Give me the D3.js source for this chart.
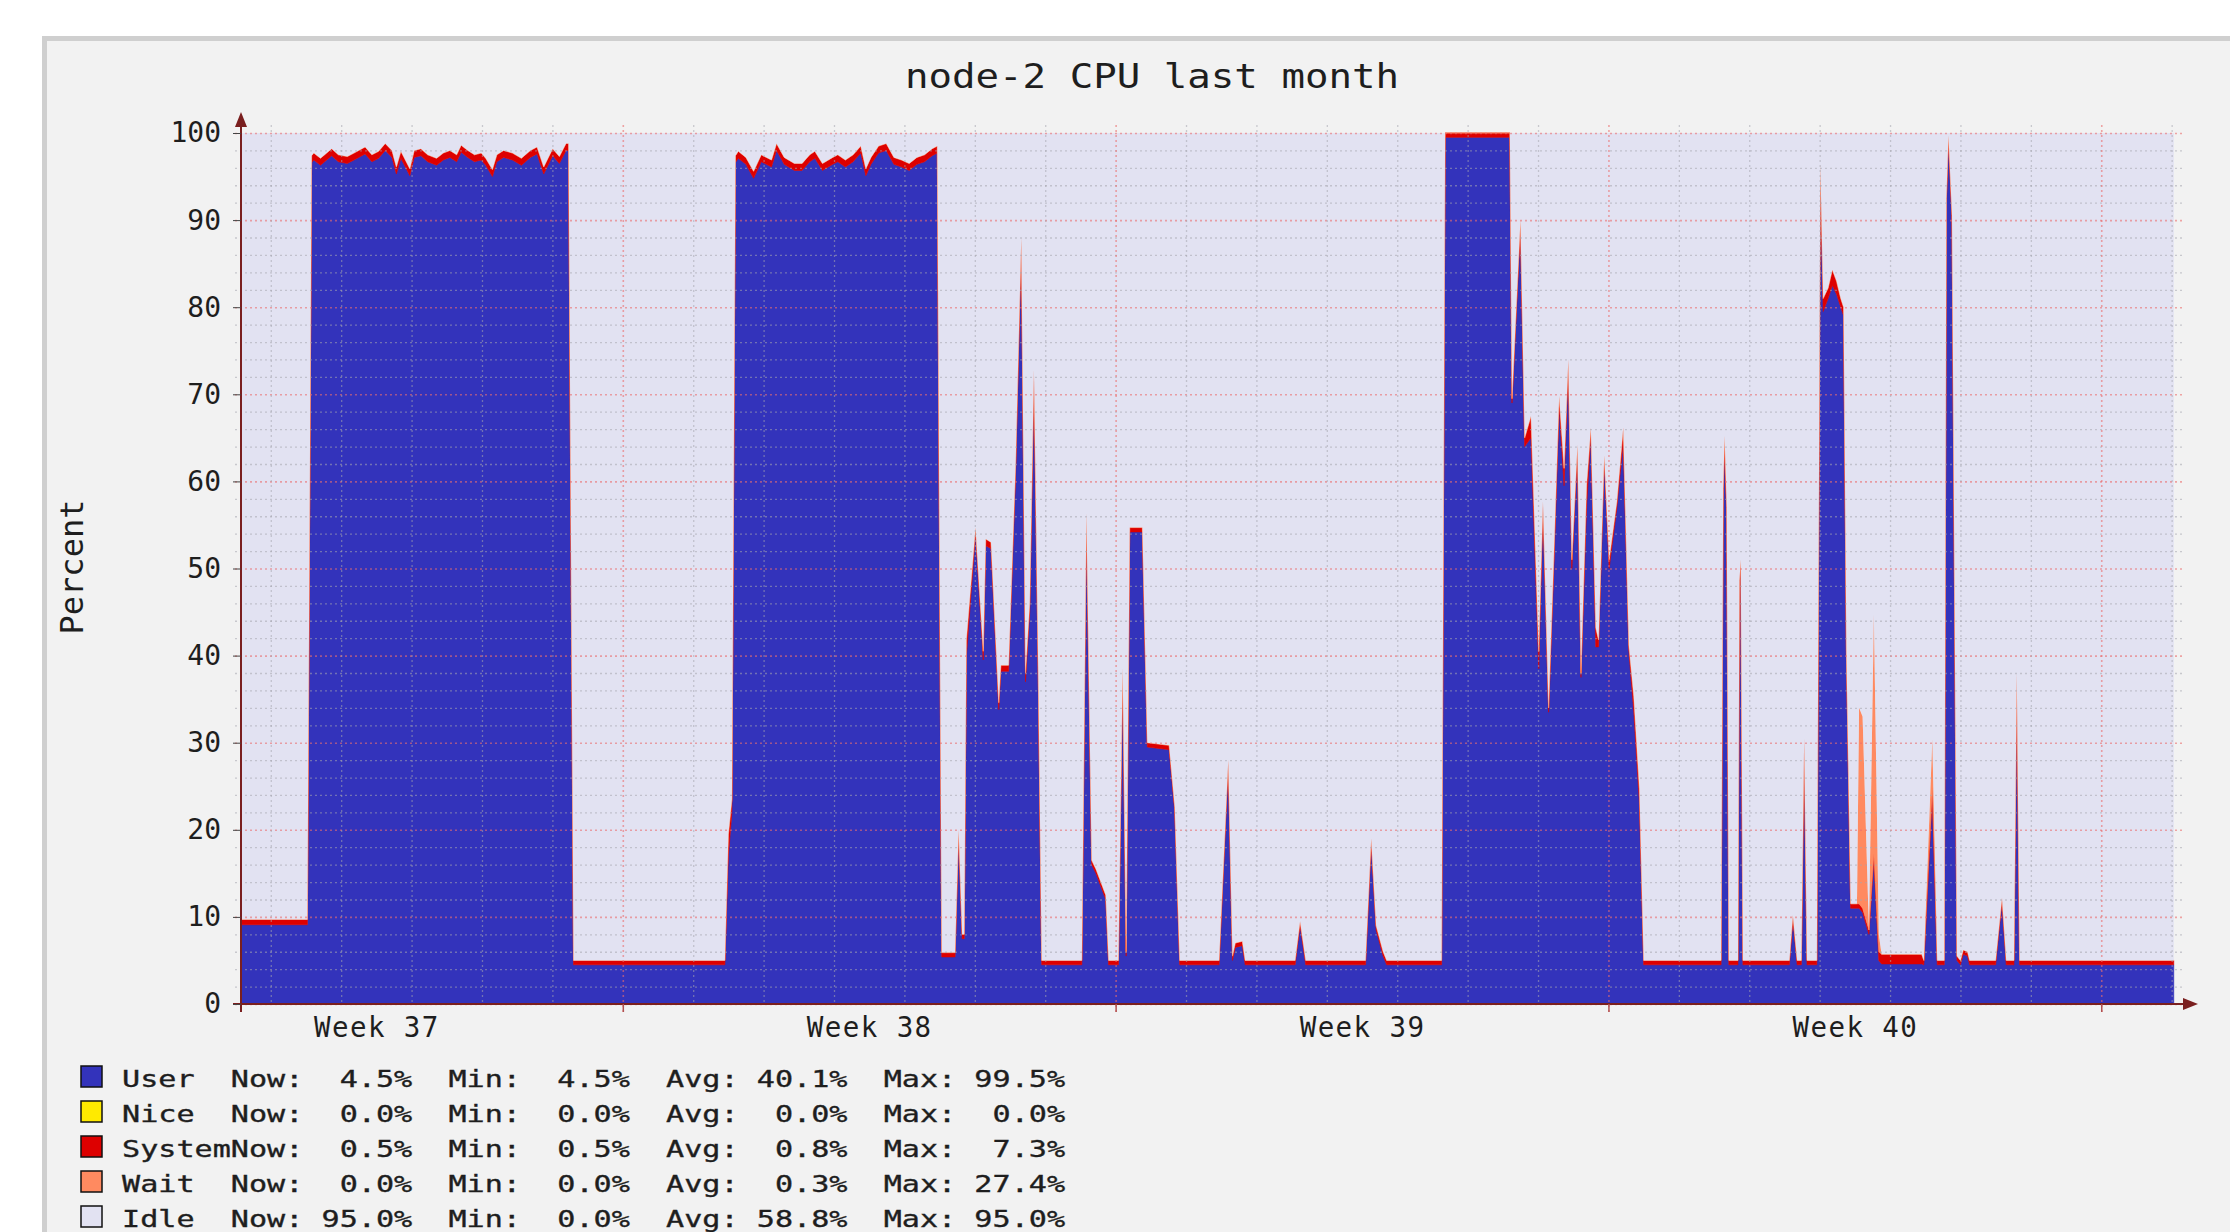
<!DOCTYPE html>
<html>
<head>
<meta charset="utf-8">
<title>node-2 CPU last month</title>
<script src="https://cdnjs.cloudflare.com/ajax/libs/d3/7.8.5/d3.min.js"></script>
<style>
    html, body { margin: 0; padding: 0; background: #ffffff; }
    svg { display: block; }
    text { font-family: "DejaVu Sans Mono", "Liberation Mono", monospace; fill: #1e1e1e; }
</style>
</head>
<body>
<svg id="chart" width="2230" height="1232"></svg>
<script>

// time axis is in days, counted from the Monday that starts week 37
var xStart = 1.577, xEnd = 29.09;

var times = [
    1.577, 2.52, 2.58, 2.611, 2.706, 2.865, 2.960, 3.087, 3.182, 3.340, 3.436, 3.531, 3.626, 3.721, 3.784, 3.848, 3.975, 4.038, 4.133, 4.228, 4.355, 4.450, 4.545, 4.640, 4.704, 4.799, 4.894, 4.989, 5.053, 5.148, 5.211, 5.306, 5.433, 5.560, 5.687, 5.782, 5.877, 6.004, 6.099, 6.194, 6.23, 6.30,
    8.45, 8.50, 8.55, 8.60, 8.641, 8.749, 8.858, 8.967, 9.112, 9.184, 9.293, 9.438, 9.546, 9.655, 9.728, 9.836, 9.981, 10.054, 10.162, 10.271, 10.380, 10.452, 10.525, 10.633, 10.742, 10.851, 10.959, 11.068, 11.177, 11.286, 11.394, 11.467,
    11.53, 11.72, 11.77, 11.82, 11.85, 11.88, 12.01, 12.12, 12.155, 12.23, 12.34, 12.37, 12.48, 12.58, 12.66, 12.72, 12.78, 12.84, 12.90, 12.95,
    13.52, 13.585, 13.66, 13.72, 13.79, 13.86, 13.90, 14.04, 14.10, 14.15, 14.20, 14.38, 14.45, 14.76, 14.84, 14.91,
    15.47, 15.60, 15.66, 15.70, 15.80, 15.84, 16.55, 16.62, 16.70, 17.55, 17.63, 17.70, 17.80, 17.85, 18.63, 18.68, 19.60,
    19.63, 19.75, 19.81, 19.90, 20.01, 20.07, 20.15, 20.22, 20.30, 20.37, 20.43, 20.48, 20.56, 20.61, 20.69, 20.75, 20.82, 20.86, 20.94, 21.01, 21.12, 21.21, 21.29, 21.36, 21.44, 21.50,
    22.60, 22.63, 22.65, 22.68, 22.71, 22.84, 22.86, 22.88, 22.91, 23.57, 23.62, 23.68, 23.74, 23.78, 23.82, 23.96, 24.01, 24.05, 24.12, 24.18, 24.24, 24.30, 24.34, 24.38,
    24.44, 24.53, 24.56, 24.61, 24.70, 24.77, 24.84, 24.88, 25.45, 25.48, 25.60, 25.67, 25.77, 25.80, 25.83, 25.88, 25.95, 26.00, 26.04, 26.10, 26.13, 26.50, 26.59, 26.65, 26.76, 26.80, 26.84, 29.03
];

var user = [
    9.1, 9.1, 96.6, 96.9, 96.3, 97.4, 96.7, 96.5, 96.9, 97.6, 96.7, 97.1, 98.0, 97.2, 95.3, 97.1, 95.1, 97.2, 97.4, 96.7, 96.3, 96.9, 97.2, 96.7, 97.8, 97.2, 96.7, 96.9, 96.3, 95.0, 96.7, 97.2, 96.9, 96.3, 97.2, 97.6, 95.3, 97.4, 96.5, 98.0, 98.0, 4.5,
    4.5, 17, 22, 96.6, 97.1, 96.4, 94.8, 96.7, 96.1, 98.0, 96.4, 95.7, 95.7, 96.7, 97.1, 95.7, 96.4, 96.7, 96.1, 96.7, 97.7, 95.1, 96.4, 97.7, 98.0, 96.4, 96.1, 95.7, 96.4, 96.7, 97.4, 97.7,
    5.4, 5.4, 19.5, 7.5, 7.5, 39.8, 54.0, 39.5, 52.6, 52.3, 33.8, 38.2, 38.2, 61, 87.5, 37, 45, 71.5, 38, 4.5,
    4.5, 55.8, 16, 15, 13.5, 12, 4.5, 4.5, 38, 5.5, 54.2, 54.2, 29.5, 29.2, 22.1, 4.5,
    4.5, 27.5, 5, 6.5, 6.7, 4.5, 4.5, 9.0, 4.5, 4.5, 18.5, 8.5, 5.5, 4.5, 4.5, 99.5, 99.5,
    69, 89, 64, 65, 38.5, 57, 33.5, 49, 68.5, 59.5, 73.5, 50, 63.5, 37.5, 57, 65.5, 41, 41, 62.5, 50, 57, 64.5, 40.5, 33.5, 23, 4.5,
    4.5, 58, 63.5, 56, 4.5, 4.5, 48, 50.4, 4.5, 4.5, 9.7, 4.5, 4.5, 30, 4.5, 4.5, 95.9, 79.5, 81, 82.5, 81.5, 80, 79, 40,
    11, 11, 11, 10.5, 8, 16.8, 5, 4.6, 4.6, 4.5, 23.9, 4.5, 4.5, 92, 99.2, 90, 5, 4.5, 5.7, 5.5, 4.5, 4.5, 11.7, 4.5, 4.5, 37.5, 4.5, 4.5
];

var system = [
    0.6, 0.6, 0.8, 0.8, 0.8, 0.8, 0.8, 0.8, 0.8, 0.8, 0.8, 0.8, 0.8, 0.8, 0.8, 0.8, 0.8, 0.8, 0.8, 0.8, 0.8, 0.8, 0.8, 0.8, 0.8, 0.8, 0.8, 0.8, 0.8, 0.8, 0.8, 0.8, 0.8, 0.8, 0.8, 0.8, 0.8, 0.8, 0.8, 0.8, 0.8, 0.5,
    0.5, 2.5, 1.5, 0.8, 0.8, 0.8, 0.8, 0.8, 0.8, 0.8, 0.8, 0.8, 0.8, 0.8, 0.8, 0.8, 0.8, 0.8, 0.8, 0.8, 0.8, 0.8, 0.8, 0.8, 0.8, 0.8, 0.8, 0.8, 0.8, 0.8, 0.8, 0.8,
    0.5, 0.5, 0.5, 0.5, 0.5, 2.0, 0.7, 1.0, 0.8, 0.7, 0.8, 0.7, 0.7, 1.0, 0.5, 1.0, 1.0, 1.3, 0.8, 0.5,
    0.5, 0.6, 0.5, 0.5, 0.5, 0.5, 0.5, 0.5, 0.6, 0.5, 0.5, 0.5, 0.5, 0.5, 0.5, 0.5,
    0.5, 0.5, 0.5, 0.5, 0.5, 0.5, 0.5, 0.5, 0.5, 0.5, 0.5, 0.5, 0.5, 0.5, 0.5, 0.5, 0.5,
    0.5, 1.0, 1.0, 2.5, 2.0, 0.7, 0.5, 1.4, 1.3, 2.0, 0.5, 1.0, 0.7, 0.5, 2.6, 0.7, 2.2, 0.8, 0.5, 1.0, 0.7, 1.7, 0.7, 1.8, 1.7, 0.5,
    0.5, 1.2, 1.7, 1.0, 0.5, 0.5, 0.6, 0.6, 0.5, 0.5, 0.5, 0.5, 0.5, 0.5, 0.5, 0.5, 0.5, 1.5, 1.2, 1.8, 1.5, 1.0, 1.0, 0.5,
    0.5, 0.5, 0.5, 0.5, 0.5, 0.5, 1.0, 1.1, 1.1, 0.5, 1.0, 0.5, 0.5, 0.5, 0.5, 0.5, 0.5, 0.5, 0.5, 0.5, 0.5, 0.5, 0.5, 0.5, 0.5, 0.5, 0.5, 0.5
];

var wait = [
    0, 0, 0, 0, 0, 0, 0, 0, 0, 0, 0, 0, 0, 0, 0, 0, 0, 0, 0, 0, 0, 0, 0, 0, 0, 0, 0, 0, 0, 0, 0, 0, 0, 0, 0, 0, 0, 0, 0, 0, 0, 0,
    0, 0, 0, 0, 0, 0, 0, 0, 0, 0, 0, 0, 0, 0, 0, 0, 0, 0, 0, 0, 0, 0, 0, 0, 0, 0, 0, 0, 0, 0, 0, 0,
    0, 0, 0, 0, 0, 0, 0, 0, 0, 0, 0, 0, 0, 0, 0, 0, 0, 0, 0, 0,
    0, 0, 0, 0, 0, 0, 0, 0, 0, 0, 0, 0, 0, 0, 0, 0,
    0, 0, 0, 0, 0, 0, 0, 0, 0, 0, 0, 0, 0, 0, 0, 0, 0,
    0, 0, 0, 0, 0, 0, 0, 0, 0, 0, 0, 0, 0, 0, 0, 0, 0, 0, 0, 0, 0, 0, 0, 0, 0, 0,
    0, 0, 0, 0, 0, 0, 0, 0, 0, 0, 0, 0, 0, 0, 0, 0, 0, 0, 0, 0, 0, 0, 0, 0,
    0, 0, 22.5, 22, 0, 27.4, 2, 0, 0, 0, 5.5, 0, 0, 0, 0, 0, 0, 0, 0, 0, 0, 0, 0, 0, 0, 0, 0, 0
];

var yTicks = [0, 10, 20, 30, 40, 50, 60, 70, 80, 90, 100];
var weekLabels = ['Week 37', 'Week 38', 'Week 39', 'Week 40'];
var weekCenters = [3.5, 10.5, 17.5, 24.5];
var weekStarts = [7, 14, 21, 28];

var legendNames = ['User', 'Nice', 'System', 'Wait', 'Idle'];
var legendColors = ['#3333bb', '#ffea00', '#dd0000', '#ff8a60', '#e2e2f2'];
var nowVals = [4.5, 0.0, 0.5, 0.0, 95.0];
var minVals = [4.5, 0.0, 0.5, 0.0, 0.0];
var avgVals = [40.1, 0.0, 0.8, 0.3, 58.8];
var maxVals = [99.5, 0.0, 7.3, 27.4, 95.0];

var W = 2230, H = 1232;
var plot = {left: 241, right: 2178, top: 133, bottom: 1004};
var axisColor = '#7a1f1f';

var svg = d3.select('#chart');

// grey frame of the graph image
svg.append('rect').attr('x', 42).attr('y', 36).attr('width', W - 42).attr('height', H - 36).attr('fill', '#f2f2f2');
svg.append('rect').attr('x', 42).attr('y', 36).attr('width', W - 42).attr('height', 5).attr('fill', '#cfcfcf');
svg.append('rect').attr('x', 42).attr('y', 36).attr('width', 5).attr('height', H - 36).attr('fill', '#cfcfcf');

var x = d3.scaleLinear().domain([xStart, xEnd]).range([plot.left, plot.right]);
var y = d3.scaleLinear().domain([0, 100]).range([plot.bottom, plot.top]);

var n = Math.min(times.length, user.length, system.length, wait.length);
var rows = [];
for (var i = 0; i < n; i++) {
    rows.push({
        t: times[i],
        user: user[i],
        system: system[i],
        wait: wait[i],
        idle: Math.max(0, 100 - user[i] - system[i] - wait[i])
    });
}

var keys = ['user', 'system', 'wait', 'idle'];
var keyColors = {user: '#3333bb', system: '#dd0000', wait: '#ff8a60', idle: '#e2e2f2'};
var stacked = d3.stack().keys(keys)(rows);

var area = d3.area()
    .x(function (d) { return x(d.data.t); })
    .y0(function (d) { return y(d[0]); })
    .y1(function (d) { return y(d[1]); });

svg.append('g').selectAll('path')
    .data(stacked)
    .enter().append('path')
    .attr('d', area)
    .attr('fill', function (d) { return keyColors[d.key]; })
    .attr('stroke', function (d) { return d.key === 'idle' ? 'none' : keyColors[d.key]; })
    .attr('stroke-width', 0.6);

// grid goes on top, like the rrdtool picture
var grid = svg.append('g');
var hLines = d3.range(0, 101, 2);
grid.selectAll('line.h')
    .data(hLines)
    .enter().append('line')
    .attr('x1', plot.left - 6).attr('x2', plot.right + 5)
    .attr('y1', function (d) { return y(d) + 0.5; })
    .attr('y2', function (d) { return y(d) + 0.5; })
    .attr('stroke', function (d) { return d % 10 === 0 ? 'rgba(235,110,110,0.6)' : 'rgba(165,165,175,0.55)'; })
    .attr('stroke-width', function (d) { return d % 10 === 0 ? 1.6 : 1.3; })
    .attr('stroke-dasharray', '2,3');

var dayLines = d3.range(Math.ceil(xStart), Math.floor(xEnd) + 1);
grid.selectAll('line.v')
    .data(dayLines)
    .enter().append('line')
    .attr('x1', function (d) { return x(d) + 0.5; })
    .attr('x2', function (d) { return x(d) + 0.5; })
    .attr('y1', plot.top - 8)
    .attr('y2', function (d) { return d % 7 === 0 ? plot.bottom + 9 : plot.bottom; })
    .attr('stroke', function (d) { return d % 7 === 0 ? 'rgba(235,110,110,0.6)' : 'rgba(165,165,175,0.55)'; })
    .attr('stroke-width', function (d) { return d % 7 === 0 ? 1.6 : 1.3; })
    .attr('stroke-dasharray', '2,3');

// axes with arrows
svg.append('line')
    .attr('x1', plot.left).attr('x2', plot.left)
    .attr('y1', plot.bottom + 8).attr('y2', plot.top - 8)
    .attr('stroke', axisColor).attr('stroke-width', 2);
svg.append('path')
    .attr('d', 'M' + (plot.left - 6) + ',' + (plot.top - 6) + 'L' + plot.left + ',' + (plot.top - 21) + 'L' + (plot.left + 6) + ',' + (plot.top - 6) + 'Z')
    .attr('fill', axisColor);
svg.append('line')
    .attr('x1', plot.left - 8).attr('x2', plot.right + 8)
    .attr('y1', plot.bottom).attr('y2', plot.bottom)
    .attr('stroke', axisColor).attr('stroke-width', 2);
svg.append('path')
    .attr('d', 'M' + (plot.right + 5) + ',' + (plot.bottom - 6) + 'L' + (plot.right + 20) + ',' + plot.bottom + 'L' + (plot.right + 5) + ',' + (plot.bottom + 6) + 'Z')
    .attr('fill', axisColor);

var yAxis = svg.append('g')
    .attr('transform', 'translate(' + plot.left + ',0)')
    .call(d3.axisLeft(y).tickValues(yTicks).tickSize(8).tickPadding(12).tickFormat(d3.format('d')));
yAxis.select('.domain').remove();
yAxis.selectAll('line').attr('stroke', '#444');
yAxis.selectAll('text').attr('font-size', 28).attr('fill', '#1e1e1e')
    .style('font-family', '"DejaVu Sans Mono", monospace');

var xAxis = svg.append('g')
    .attr('transform', 'translate(0,' + plot.bottom + ')')
    .call(d3.axisBottom(x).tickValues(weekCenters).tickSize(0).tickPadding(13)
        .tickFormat(function (d, i) { return weekLabels[i]; }));
xAxis.select('.domain').remove();
xAxis.selectAll('text').attr('font-size', 27.5).attr('fill', '#1e1e1e')
    .style('letter-spacing', '1.4px')
    .style('font-family', '"DejaVu Sans Mono", monospace');

svg.append('g').selectAll('line')
    .data(weekStarts)
    .enter().append('line')
    .attr('x1', function (d) { return x(d) + 0.5; })
    .attr('x2', function (d) { return x(d) + 0.5; })
    .attr('y1', plot.bottom).attr('y2', plot.bottom + 8)
    .attr('stroke', '#b05050').attr('stroke-width', 1.5);

// title and y label
svg.append('text')
    .attr('transform', 'translate(1152,88) scale(1.15,1)')
    .attr('text-anchor', 'middle')
    .attr('font-size', 34)
    .text('node-2 CPU last month');

svg.append('text')
    .attr('transform', 'translate(83,567) rotate(-90)')
    .attr('text-anchor', 'middle')
    .attr('font-size', 32)
    .text('Percent');

// legend
function fmt(v) {
    var s = v.toFixed(1);
    while (s.length < 5) s = ' ' + s;
    return s + '%';
}
function pad(s, len) {
    while (s.length < len) s = s + ' ';
    return s;
}

var legend = svg.append('g');
legendNames.forEach(function (name, i) {
    var base = 1087 + i * 35;
    legend.append('rect')
        .attr('x', 81).attr('y', base - 21)
        .attr('width', 21).attr('height', 21)
        .attr('fill', legendColors[i])
        .attr('stroke', '#111').attr('stroke-width', 1.5);
    legend.append('text')
        .attr('transform', 'translate(122,' + base + ') scale(1.31,1)')
        .attr('font-size', 23)
        .attr('stroke', '#1e1e1e')
        .attr('stroke-width', 0.35)
        .style('white-space', 'pre')
        .text(pad(name, 6) + 'Now:' + fmt(nowVals[i]) + '  Min:' + fmt(minVals[i]) +
              '  Avg:' + fmt(avgVals[i]) + '  Max:' + fmt(maxVals[i]));
});

</script>
</body>
</html>
